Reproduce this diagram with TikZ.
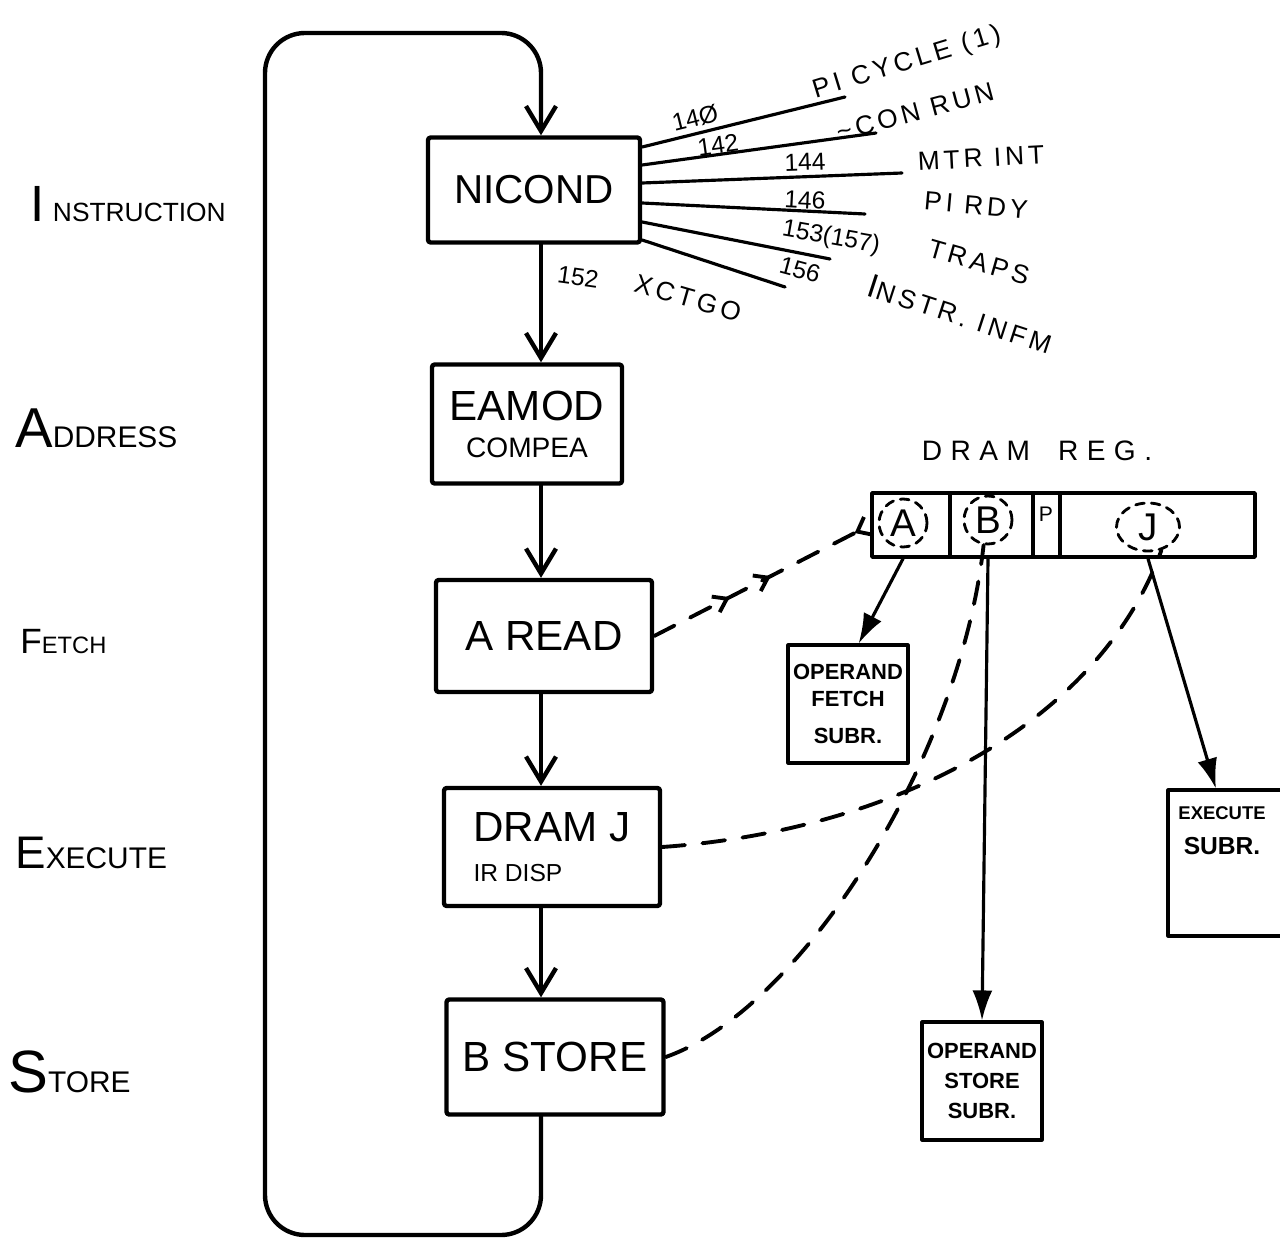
\documentclass[tikz,border=0pt]{standalone}
\usepackage{fontspec}
\setmainfont{Liberation Sans}
\newfontfamily\hand[LetterSpace = 15]{Liberation Sans}
\usetikzlibrary{arrows.meta, decorations.markings, shapes.geometric}
\newcommand{\stagelabel}[4]{{\fontsize{#1}{#1}\selectfont #2}{\fontsize{#3}{#3}\selectfont #4}}

\begin{document}
\begin{tikzpicture}[x = 0.02cm, y = -0.02cm, line cap = round, line join = round,
  stage/.style = {draw, line width = 2.5pt, rounded corners = 1.5pt, inner sep = 0pt, align = center},
  subr/.style = {draw, line width = 1.8pt, inner sep = 0pt, align = center},
  field/.style = {draw, line width = 2pt, inner sep = 0pt, minimum height = 1.28cm},
  ring/.style = {draw, dash pattern = on 5pt off 4pt, line width = 1.6pt, inner sep = 0pt, font = \fontsize{22}{22}\selectfont},
  flow/.style = {line width = 2.5pt, -{Straight Barb[length = 5mm, width = 6mm]}},
  call/.style = {line width = 1.8pt, -{Latex[length = 6mm, width = 4mm]}},
  link/.style = {line width = 2.2pt, dash pattern = on 13pt off 10pt},
  sig/.style = {line width = 1.8pt},
  siglbl/.style = {font = {\hand\fontsize{15}{15}\selectfont}, inner sep = 0pt},
  numlbl/.style = {font = {\fontsize{14}{14}\selectfont}, inner sep = 0pt},
  mid/.style = {postaction = {decorate}, decoration = {markings,
    mark = at position 0.35 with {\arrow{Straight Barb[length = 2.5mm, width = 3.5mm]}},
    mark = at position 0.54 with {\arrow{Straight Barb[length = 2.5mm, width = 3.5mm]}}}}]
\clip (0,0) rectangle (1280,1243);

\node[anchor = base west, inner sep = 0pt] (lblinstr) at (30,222) {\stagelabel{29}{I\,}{15}{NSTRUCTION}};
\node[anchor = base west, inner sep = 0pt] (lbladdr) at (15,447) {\stagelabel{32}{A}{17}{DDRESS}};
\node[anchor = base west, inner sep = 0pt] (lblfetch) at (20,653) {\stagelabel{20}{F}{13.5}{ETCH}};
\node[anchor = base west, inner sep = 0pt] (lblexec) at (15,868) {\stagelabel{26}{E}{17}{XECUTE}};
\node[anchor = base west, inner sep = 0pt] (lblstore) at (8,1092) {\stagelabel{34}{S}{17}{TORE}};

\node[stage, minimum width = 4.24cm, minimum height = 2.1cm, font = {\fontsize{23}{23}\selectfont}] (nicond) at (534,190) {NICOND};
\node[stage, minimum width = 3.8cm, minimum height = 2.38cm] (eamod) at (527,424) {{\fontsize{24}{24}\selectfont EAMOD}\\[9pt]{\fontsize{16}{16}\selectfont COMPEA}};
\node[stage, minimum width = 4.32cm, minimum height = 2.24cm, font = {\fontsize{24}{24}\selectfont}] (aread) at (544,636) {A READ};
\node[stage, minimum width = 4.32cm, minimum height = 2.36cm, align = left] (dramj) at (552,847) {{\fontsize{24}{24}\selectfont DRAM J}\\[11pt]{\fontsize{14}{14}\selectfont IR DISP}};
\node[stage, minimum width = 4.34cm, minimum height = 2.3cm, font = {\fontsize{24}{24}\selectfont}] (bstore) at (555,1057) {B STORE};

\coordinate (spine) at (541,0);
\coordinate (loopbl) at (265,1235);
\coordinate (looptl) at (265,33);
\draw[flow] (nicond.south -| spine) -- (eamod.north -| spine);
\draw[flow] (eamod.south -| spine) -- (aread.north -| spine);
\draw[flow] (aread.south -| spine) -- (dramj.north -| spine);
\draw[flow] (dramj.south -| spine) -- (bstore.north -| spine);
\draw[flow, rounded corners = 0.8cm] (bstore.south -| spine) |- (loopbl) -- (looptl) -| (nicond.north -| spine);

\coordinate (s140) at (845,97);
\coordinate (s142) at (876,133);
\coordinate (s144) at (902,173);
\coordinate (s146) at (865,214);
\coordinate (s153) at (830,259);
\coordinate (s156) at (785,287);
\foreach \s/\dy in {140/-43, 142/-25, 144/-7, 146/13, 153/32, 156/50}
  \draw[sig] (nicond.east) ++(0,\dy) -- (s\s);

\node[numlbl, rotate = 14] (n140) at (695,118) {14Ø};
\node[numlbl, rotate = 8] (n142) at (718,145) {142};
\node[numlbl, rotate = 2] (n144) at (805,162) {144};
\node[numlbl, rotate = -3] (n146) at (805,200) {146};
\node[numlbl, rotate = -10] (n153) at (831,238) {153(157)};
\node[numlbl, rotate = -15] (n156) at (800,270) {156};
\node[siglbl, rotate = 17] (picycle) at (907,63) {PI CYCLE (1)};
\node[siglbl, rotate = 15] (conrun) at (915,112) {\textasciitilde CON RUN};
\node[siglbl, rotate = 3] (mtrint) at (981,158) {MTR INT};
\node[siglbl, rotate = -5] (pirdy) at (976,205) {PI RDY};
\node[siglbl, rotate = -16] (traps) at (979,262) {TRAPS};
\node[siglbl, rotate = -18] (instrinfm) at (960,314) {{\fontsize{19}{19}\selectfont I}NSTR. INFM};
\node[numlbl, rotate = -8] (n152) at (578,277) {152};
\node[siglbl, rotate = -16] (xctgo) at (688,298) {XCTGO};

\node[anchor = base, font = {\hand\addfontfeatures{LetterSpace = 30}\fontsize{16}{16}\selectfont}] (regtitle) at (1037,460) {DRAM\quad REG.};
\node[field, minimum width = 1.56cm] (fieldA) at (911,525) {};
\node[field, minimum width = 1.66cm] (fieldB) at (991.5,525) {};
\node[field, minimum width = 0.54cm] (fieldP) at (1046.5,525) {};
\node[field, minimum width = 3.9cm] (fieldJ) at (1157.5,525) {};
\node[font = {\fontsize{12}{12}\selectfont}] (ptext) at (1046,514) {P};
\node[ring, circle, minimum size = 0.96cm] (circA) at (903,523) {A};
\node[ring, circle, minimum size = 0.96cm] (circB) at (988,520) {B};
\node[ring, ellipse, minimum width = 1.26cm, minimum height = 0.96cm] (circJ) at (1148,527) {J};

\node[subr, minimum width = 2.4cm, minimum height = 2.36cm, font = {\bfseries\fontsize{12.5}{15}\selectfont}] (opfetch) at (848,704) {OPERAND\\FETCH\\[6pt]SUBR.};
\node[subr, minimum width = 2.4cm, minimum height = 2.36cm, font = {\bfseries\fontsize{12.5}{17}\selectfont}] (opstore) at (982,1081) {OPERAND\\STORE\\SUBR.};
\node[subr, minimum width = 2.44cm, minimum height = 2.92cm] (execsub) at (1229,863) {};
\node[anchor = north, align = center, inner sep = 0pt, font = \bfseries] (exectext) at (1222,806) {{\fontsize{10.5}{11}\selectfont EXECUTE}\\[8pt]{\fontsize{14}{14}\selectfont SUBR.}};

\draw[call] (circA.south |- fieldA.south) -- (opfetch.80);
\draw[call] (circB.south |- fieldB.south) -- (opstore.north);
\draw[call] (circJ.south |- fieldJ.south) -- (execsub.100);

\draw[link, mid, -{Straight Barb[reversed, length = 2.5mm, width = 4mm]}] (aread.east) -- (fieldA.west);
\draw[link] (dramj.east) .. controls (900,830) and (1100,720) .. (circJ.-60);
\draw[link] (bstore.east) .. controls (800,1010) and (960,760) .. (circB.260);
\end{tikzpicture}
\end{document}
